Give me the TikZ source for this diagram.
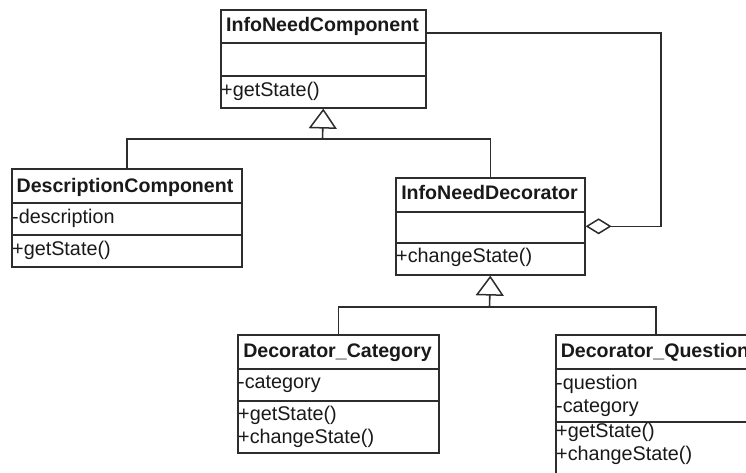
\documentclass[tikz,border=0pt]{standalone}
\usepackage{fontspec}
\setmainfont{Liberation Sans}
\usetikzlibrary{arrows.meta}
\definecolor{umlline}{RGB}{45,45,45}
\definecolor{umltext}{RGB}{25,25,25}
\tikzset{
  classbox/.style={draw=umlline, line width=1.6pt, fill=white, rectangle,
    inner sep=0pt, anchor=north west},
  classtitle/.style={font=\fontsize{19.6}{22}\selectfont\bfseries, inner sep=0pt,
    anchor=base, text=umltext},
  member/.style={font=\fontsize{19.8}{22}\selectfont, inner sep=0pt,
    anchor=base west, text=umltext},
  divider/.style={draw=umlline, line width=1.6pt},
  link/.style={draw=umlline, line width=1.6pt},
  inherit/.style={link, -{Triangle[open, length=20pt, width=28pt, line width=1.5pt]}},
  aggregate/.style={link, {Diamond[open, length=26pt, width=16pt, line width=1.5pt]}-},
}
\begin{document}
\begin{tikzpicture}[x=1pt, y=-1pt]
\useasboundingbox (0,0) rectangle (746,473);
\clip (0,0) rectangle (746,473);

% InfoNeedComponent
\node[classbox, minimum width=205pt, minimum height=98pt] (inc) at (220,9) {};
\draw[divider] (220,43) -- (425,43);
\draw[divider] (220,76) -- (425,76);
\node[classtitle] (inc-t) at (322.5,32) {InfoNeedComponent};
\node[member] (inc-m1) at (221,97) {+getState()};

% DescriptionComponent
\node[classbox, minimum width=230pt, minimum height=98pt] (dc) at (11,168) {};
\draw[divider] (11,203) -- (241,203);
\draw[divider] (11,235) -- (241,235);
\node[classtitle] (dc-t) at (125,192) {DescriptionComponent};
\node[member] (dc-a1) at (12,223) {-description};
\node[member] (dc-m1) at (12,255) {+getState()};

% InfoNeedDecorator
\node[classbox, minimum width=189pt, minimum height=97pt] (ind) at (395,177) {};
\draw[divider] (395,212) -- (584,212);
\draw[divider] (395,243) -- (584,243);
\node[classtitle] (ind-t) at (489.5,199) {InfoNeedDecorator};
\node[member] (ind-m1) at (396,262) {+changeState()};

% Decorator_Category
\node[classbox, minimum width=201pt, minimum height=118pt] (dcat) at (237,334) {};
\draw[divider] (237,369) -- (438,369);
\draw[divider] (237,401) -- (438,401);
\node[classtitle] (dcat-t) at (337.5,357) {Decorator\_Category};
\node[member] (dcat-a1) at (238,388) {-category};
\node[member] (dcat-m1) at (238,420) {+getState()};
\node[member] (dcat-m2) at (238,443) {+changeState()};

% Decorator_Question (runs past the right and bottom edges)
\node[classbox, minimum width=200pt, minimum height=150pt] (dq) at (555,334) {};
\draw[divider] (555,369) -- (755,369);
\draw[divider] (555,422) -- (755,422);
\node[classtitle] (dq-t) at (655,357) {Decorator\_Question};
\node[member] (dq-a1) at (556,389) {-question};
\node[member] (dq-a2) at (556,412) {-category};
\node[member] (dq-m1) at (556,437) {+getState()};
\node[member] (dq-m2) at (556,460) {+changeState()};

% generalisation to InfoNeedComponent
\coordinate (j1) at (322.5,139);
\draw[link] (dc.north) |- (j1);
\draw[link] (ind.north) |- (j1);
\draw[inherit] (j1) -- (inc.south);

% generalisation to InfoNeedDecorator
\coordinate (j2) at (489.5,307);
\draw[link] (dcat.north) |- (j2);
\draw[link] (dq.north) |- (j2);
\draw[inherit] (j2) -- (ind.south);

% aggregation of the wrapped component
\coordinate (agg) at (661,33);
\draw[aggregate] (ind.east) -| (agg) -- (inc.east |- agg);
\end{tikzpicture}
\end{document}
